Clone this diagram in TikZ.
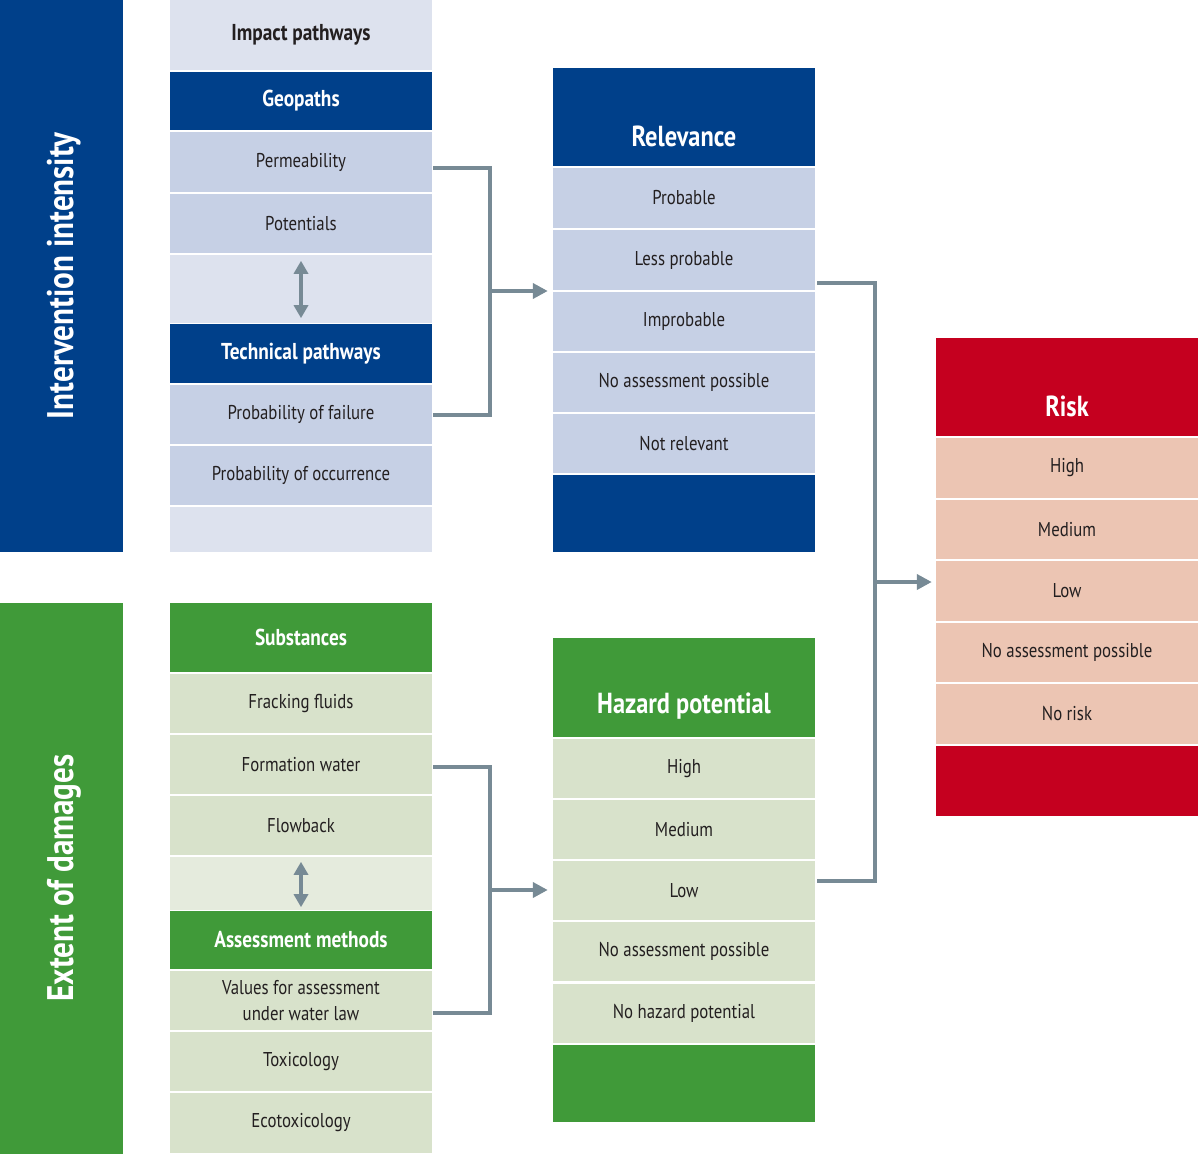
\documentclass[tikz,border=0pt]{standalone}
\usepackage{fontspec}
\setmainfont[FakeStretch=0.84]{PT Sans}
\usetikzlibrary{arrows.meta}
\definecolor{dblue}{HTML}{00408A}
\definecolor{lblue}{HTML}{C6D0E5}
\definecolor{llblue}{HTML}{DDE2EE}
\definecolor{dgreen}{HTML}{409A39}
\definecolor{lgreen}{HTML}{D8E2CB}
\definecolor{llgreen}{HTML}{E5EBDD}
\definecolor{dred}{HTML}{C5001F}
\definecolor{lred}{HTML}{ECC5B3}
\definecolor{conn}{HTML}{778A95}
\definecolor{txt}{HTML}{231F20}
\begin{document}
\begin{tikzpicture}[x=1pt,y=-1pt,
  cell/.style={rectangle,inner sep=0pt,minimum width=262pt,minimum height=59pt,
    text=txt,font=\fontsize{20}{22}\selectfont,align=center},
  head/.style={cell,text=white,font=\fontsize{23}{25}\selectfont\bfseries},
  bighead/.style={text=white,font=\fontsize{29}{31}\selectfont\bfseries,inner sep=0pt},
  side/.style={rectangle,inner sep=0pt,minimum width=123pt,minimum height=551pt},
  sidetext/.style={text=white,font=\fontsize{37}{39}\selectfont\bfseries,rotate=90,inner sep=0pt},
  link/.style={draw=conn,line width=4pt},
  tip/.style={-{Triangle[length=15pt,width=15pt]}},
  dtip/.style={{Triangle[length=13pt,width=14pt]}-{Triangle[length=13pt,width=14pt]}}
]
\useasboundingbox (0,0) rectangle (1200,1156);
% side bars
\node[side,fill=dblue] (sideA) at (61.5,276) {};
\node[sidetext] (sideAt) at (64,276) {Intervention intensity};
\node[side,fill=dgreen] (sideB) at (61.5,878.5) {};
\node[sidetext] (sideBt) at (64,878) {Extent of damages};
% column 2 blue
\node[cell,fill=llblue,minimum height=70pt,font=\fontsize{23}{25}\selectfont\bfseries] (imp) at (301,35) {Impact pathways};
\node[head,fill=dblue,minimum height=58pt] (geo) at (301,101) {Geopaths};
\node[cell,fill=lblue,minimum height=60pt] (perm) at (301,162) {Permeability};
\node[cell,fill=lblue] (pot) at (301,223.5) {Potentials};
\node[cell,fill=llblue,minimum height=68pt] (gapA) at (301,289) {};
\node[head,fill=dblue] (tech) at (301,353.5) {Technical pathways};
\node[cell,fill=lblue] (pof) at (301,414.5) {Probability of failure};
\node[cell,fill=lblue] (poo) at (301,475.5) {Probability of occurrence};
\node[cell,fill=llblue,minimum height=45pt] (endA) at (301,529.5) {};
\draw[draw=conn,line width=4pt,dtip] ([yshift=-6pt]gapA.north) -- ([yshift=5pt]gapA.south);
% column 2 green
\node[head,fill=dgreen,minimum height=69pt] (subs) at (301,637.5) {Substances};
\node[cell,fill=lgreen] (frack) at (301,703.5) {Fracking fluids};
\node[cell,fill=lgreen] (form) at (301,764.5) {Formation water};
\node[cell,fill=lgreen] (flow) at (301,825.5) {Flowback};
\node[cell,fill=llgreen,minimum height=53pt] (gapB) at (301,883.5) {};
\node[head,fill=dgreen,minimum height=58pt] (assess) at (301,940) {Assessment methods};
\node[cell,fill=lgreen,font=\fontsize{20}{26}\selectfont] (vals) at (301,1000.5) {Values for assessment\\under water law};
\node[cell,fill=lgreen] (tox) at (301,1061.5) {Toxicology};
\node[cell,fill=lgreen,minimum height=60pt] (eco) at (301,1123) {Ecotoxicology};
\draw[draw=conn,line width=4pt,dtip] ([yshift=-5pt]gapB.north) -- ([yshift=3pt]gapB.south);
% column 3 blue
\node[cell,fill=dblue,minimum height=98pt] (rel) at (684,117) {};
\node[bighead] (relt) at (684,136) {Relevance};
\node[cell,fill=lblue,minimum height=60pt] (prob) at (684,198) {Probable};
\node[cell,fill=lblue,minimum height=60pt] (less) at (684,260) {Less probable};
\node[cell,fill=lblue] (improb) at (684,321.5) {Improbable};
\node[cell,fill=lblue] (noaA) at (684,382.5) {No assessment possible};
\node[cell,fill=lblue] (notrel) at (684,443.5) {Not relevant};
\node[cell,fill=dblue,minimum height=77pt] (relend) at (684,513.5) {};
% column 3 green
\node[cell,fill=dgreen,minimum height=99pt] (haz) at (684,687.5) {};
\node[bighead] (hazt) at (684,706) {Hazard potential};
\node[cell,fill=lgreen] (hhigh) at (684,768.5) {High};
\node[cell,fill=lgreen] (hmed) at (684,829.5) {Medium};
\node[cell,fill=lgreen] (hlow) at (684,890.5) {Low};
\node[cell,fill=lgreen] (hnoa) at (684,951.5) {No assessment possible};
\node[cell,fill=lgreen] (hnone) at (684,1013.5) {No hazard potential};
\node[cell,fill=dgreen,minimum height=77pt] (hazend) at (684,1083.5) {};
% column 4 red
\node[cell,fill=dred,minimum height=98pt] (risk) at (1067,387) {};
\node[bighead] (riskt) at (1067,406) {Risk};
\node[cell,fill=lred,minimum height=60pt] (rhigh) at (1067,468) {High};
\node[cell,fill=lred] (rmed) at (1067,529.5) {Medium};
\node[cell,fill=lred,minimum height=60pt] (rlow) at (1067,591) {Low};
\node[cell,fill=lred] (rnoa) at (1067,652.5) {No assessment possible};
\node[cell,fill=lred,minimum height=60pt] (rnone) at (1067,714) {No risk};
\node[cell,fill=dred,minimum height=70pt] (riskend) at (1067,781) {};
% connectors
\coordinate (jA) at (490,291);
\coordinate (jB) at (490,890);
\coordinate (jC) at (875,582);
\draw[link] ([xshift=1pt,yshift=-6pt]perm.east) -| (jA) |- ([xshift=1pt]pof.east);
\draw[link,tip] (jA) -- ([xshift=-5pt]jA -| prob.west);
\draw[link] ([xshift=1pt,yshift=-2.5pt]form.east) -| (jB) |- ([xshift=1pt,yshift=-12.5pt]vals.east);
\draw[link,tip] (jB) -- ([xshift=-5pt]jB -| hlow.west);
\draw[link] ([xshift=2pt,yshift=-23pt]less.east) -| (jC) |- ([xshift=2pt,yshift=9.5pt]hlow.east);
\draw[link,tip] (jC) -- ([xshift=-4pt]jC -| rlow.west);
\end{tikzpicture}
\end{document}
